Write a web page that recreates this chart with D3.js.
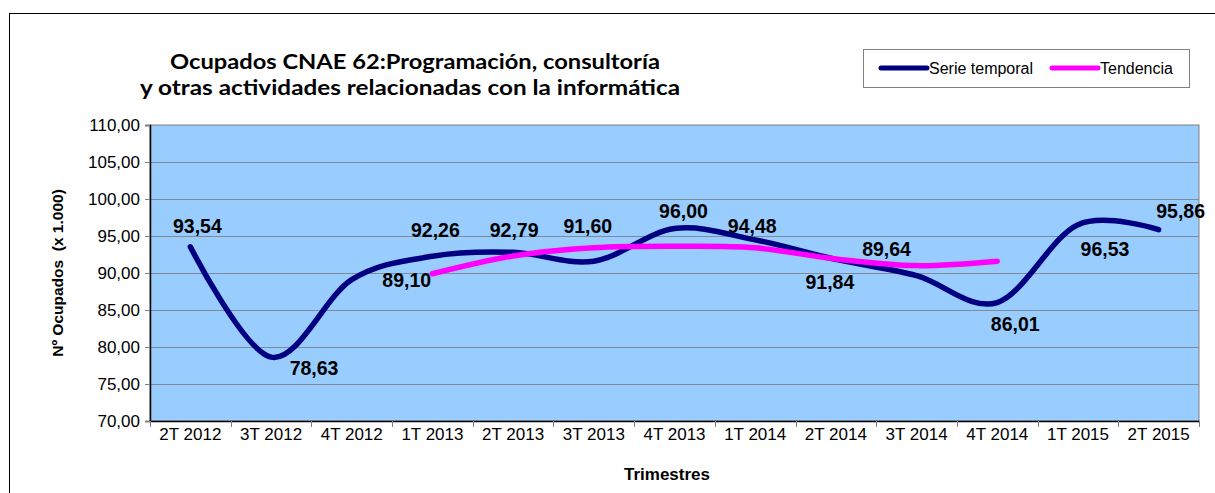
<!DOCTYPE html>
<html>
<head>
<meta charset="utf-8">
<script src="https://cdn.jsdelivr.net/npm/d3@7"></script>
<style>
  body { margin: 0; background: #fff; }
  svg text { font-family: "Liberation Sans", Arial, sans-serif; }
</style>
</head>
<body>
<svg id="chart" width="1215" height="493"></svg>
<script>
var categories = ["2T 2012", "3T 2012", "4T 2012", "1T 2013", "2T 2013", "3T 2013", "4T 2013",
                  "1T 2014", "2T 2014", "3T 2014", "4T 2014", "1T 2015", "2T 2015"];
var serieValues = [93.54, 78.63, 89.10, 92.26, 92.79, 91.60, 96.00, 94.48, 91.84, 89.64, 86.01, 96.53, 95.86];
var trendCategories = ["1T 2013", "2T 2013", "3T 2013", "4T 2013", "1T 2014", "2T 2014", "3T 2014", "4T 2014"];
var trendValues = [89.9, 92.3, 93.4, 93.6, 93.4, 91.9, 91.0, 91.6];
var yTicks = [70, 75, 80, 85, 90, 95, 100, 105, 110];
// label offsets (px) from each point, as placed in the original
var labelOffsets = [[7, -21], [43, 11], [55, 1], [3, -26], [1, -22], [-6, -35], [9, -17],
                    [-3, -14], [-6, 23], [-30, -26], [18, 22], [27, 24], [22, -18]];

var margin = {top: 125, right: 16, bottom: 72, left: 150},
    width = 1215 - margin.left - margin.right,
    height = 493 - margin.top - margin.bottom;

var svg = d3.select("#chart");
var fmt = function(v) { return v.toFixed(2).replace(".", ","); };

// outer chart frame
svg.append("rect")
    .attr("x", 9.5).attr("y", 13.5)
    .attr("width", 1300).attr("height", 600)
    .attr("fill", "none").attr("stroke", "#000").attr("stroke-width", 1);

var x = d3.scaleBand().domain(categories).range([0, width]);
var y = d3.scaleLinear().domain([70, 110]).range([height, 0]);
var cx = function(c) { return x(c) + x.bandwidth() / 2; };

var g = svg.append("g")
    .attr("transform", "translate(" + margin.left + "," + margin.top + ")");

g.append("rect")
    .attr("width", width).attr("height", height)
    .attr("fill", "#99ccff").attr("stroke", "#808080");

// gridlines
g.selectAll(".grid").data(yTicks.slice(1, -1))
  .enter().append("line")
    .attr("x1", 0).attr("x2", width)
    .attr("y1", function(d) { return Math.round(y(d)) + 0.5; })
    .attr("y2", function(d) { return Math.round(y(d)) + 0.5; })
    .attr("stroke", "#7f8a99").attr("stroke-width", 1);

// y axis
var yAxis = g.append("g")
    .call(d3.axisLeft(y).tickValues(yTicks).tickFormat(fmt).tickSizeOuter(0).tickSize(5));
yAxis.select(".domain").attr("stroke", "#000").attr("stroke-width", 1.5);
yAxis.selectAll(".tick line").attr("stroke", "#808080");
yAxis.selectAll("text").attr("font-size", 17).attr("fill", "#000").attr("dx", "-2");

// x axis with ticks at category boundaries
var xAxis = g.append("g")
    .attr("transform", "translate(0," + height + ")")
    .call(d3.axisBottom(x).tickSize(0).tickSizeOuter(0));
xAxis.select(".domain").attr("stroke", "#000").attr("stroke-width", 1.5);
xAxis.selectAll("text").attr("font-size", 17).attr("fill", "#000").attr("dy", "0.95em");
xAxis.selectAll(".bound").data(categories)
  .enter().append("line")
    .attr("x1", function(d, i) { return Math.round(x.step() * (i + 1)) + 0.5; })
    .attr("x2", function(d, i) { return Math.round(x.step() * (i + 1)) + 0.5; })
    .attr("y1", 0).attr("y2", 6)
    .attr("stroke", "#808080");
xAxis.append("line").attr("x1", 0.5).attr("x2", 0.5).attr("y1", 0).attr("y2", 6).attr("stroke", "#808080");

// lines
var line = d3.line()
    .x(function(d) { return cx(d[0]); })
    .y(function(d) { return y(d[1]); })
    .curve(d3.curveCardinal.tension(0));

g.append("path")
    .datum(categories.map(function(c, i) { return [c, serieValues[i]]; }))
    .attr("d", line)
    .attr("fill", "none").attr("stroke", "#000080")
    .attr("stroke-width", 5.5).attr("stroke-linecap", "round");

g.append("path")
    .datum(trendCategories.map(function(c, i) { return [c, trendValues[i]]; }))
    .attr("d", line)
    .attr("fill", "none").attr("stroke", "#ff00ff")
    .attr("stroke-width", 5.5).attr("stroke-linecap", "round");

// data labels
g.selectAll(".lbl").data(serieValues)
  .enter().append("text")
    .attr("x", function(d, i) { return cx(categories[i]) + labelOffsets[i][0]; })
    .attr("y", function(d, i) { return y(d) + labelOffsets[i][1]; })
    .attr("dy", "0.35em")
    .attr("text-anchor", "middle")
    .attr("font-size", 19.5).attr("font-weight", "bold")
    .text(fmt);

// titles
var titleFont = "Lato, 'Open Sans', sans-serif";
svg.append("text")
    .attr("x", 170).attr("y", 69)
    .attr("textLength", 490).attr("lengthAdjust", "spacingAndGlyphs")
    .attr("font-size", 20).attr("font-weight", "bold")
    .style("font-family", titleFont)
    .text("Ocupados CNAE 62:Programación, consultoría");
svg.append("text")
    .attr("x", 140).attr("y", 95)
    .attr("textLength", 540).attr("lengthAdjust", "spacingAndGlyphs")
    .attr("font-size", 20).attr("font-weight", "bold")
    .style("font-family", titleFont)
    .text("y otras actividades relacionadas con la informática");

svg.append("text")
    .attr("transform", "translate(63," + (margin.top + height / 2) + ") rotate(-90)")
    .attr("text-anchor", "middle")
    .attr("font-size", 15.5).attr("font-weight", "bold")
    .attr("xml:space", "preserve")
    .text("Nº Ocupados  (x 1.000)");

svg.append("text")
    .attr("x", 667).attr("y", 480)
    .attr("text-anchor", "middle")
    .attr("font-size", 17).attr("font-weight", "bold")
    .text("Trimestres");

// legend
var legend = svg.append("g").attr("transform", "translate(863,49)");
legend.append("rect").attr("x", 0.5).attr("y", 0.5).attr("width", 326).attr("height", 38)
    .attr("fill", "#fff").attr("stroke", "#808080");
var legendItems = [["Serie temporal", "#000080", 18], ["Tendencia", "#ff00ff", 189]];
legendItems.forEach(function(it) {
  legend.append("line")
      .attr("x1", it[2]).attr("x2", it[2] + 46).attr("y1", 19).attr("y2", 19)
      .attr("stroke", it[1]).attr("stroke-width", 5).attr("stroke-linecap", "round");
  legend.append("text")
      .attr("x", it[2] + 48).attr("y", 19).attr("dy", "0.35em")
      .attr("font-size", 16).text(it[0]);
});
</script>
</body>
</html>
